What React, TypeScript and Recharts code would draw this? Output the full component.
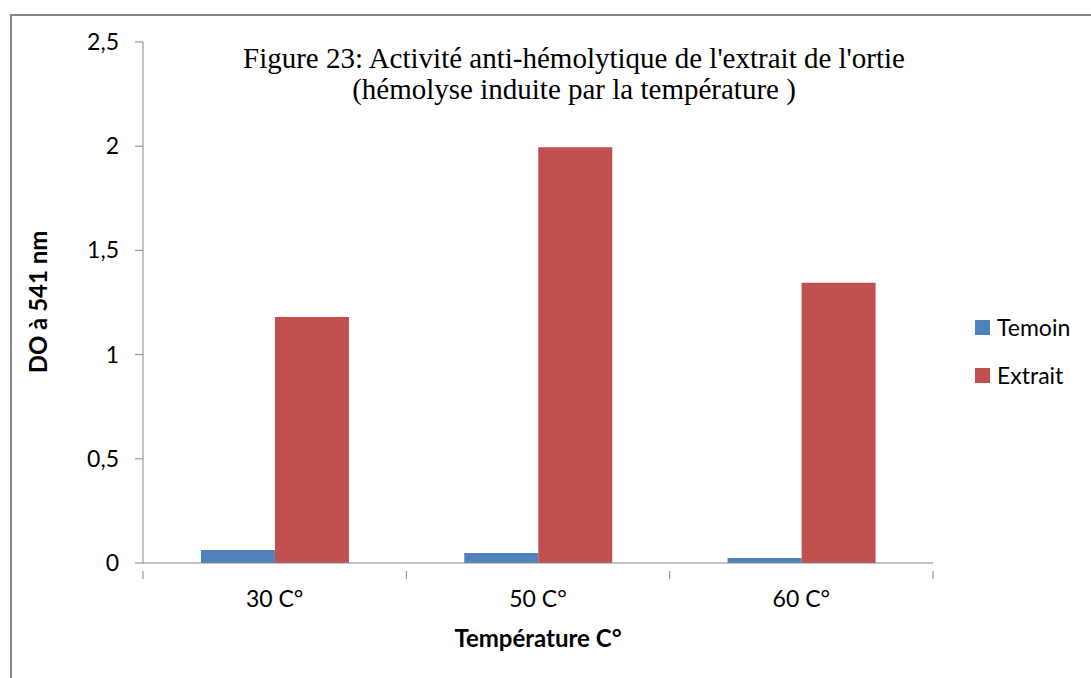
import { BarChart, Bar, XAxis, YAxis } from "recharts";

const categories = ["30 C°", "50 C°", "60 C°"];
const temoin = [0.062, 0.048, 0.024];
const extrait = [1.18, 1.995, 1.345];
const yTicks = [0, 0.5, 1, 1.5, 2, 2.5];

const data = categories.map((c, i) => ({
  name: c,
  Temoin: temoin[i],
  Extrait: extrait[i],
}));

const W = 1091;
const H = 678;
const plotLeft = 143;
const plotRight = 933;
const band = (plotRight - plotLeft) / categories.length;
const axisColor = "#868686";
const sans = "Lato, 'Open Sans', sans-serif";
const serif = "'Liberation Serif', 'Times New Roman', serif";

// x tick: label at the centre, tick mark at the category boundaries (Excel style)
function XTick(props: any) {
  const { x, y, payload, index } = props;
  const left = x - band / 2;
  return (
    <g>
      <line x1={left} x2={left} y1={y} y2={y + 8} stroke={axisColor} />
      {index === categories.length - 1 && (
        <line x1={x + band / 2} x2={x + band / 2} y1={y} y2={y + 8} stroke={axisColor} />
      )}
      <text x={x} y={y + 36} textAnchor="middle" fontSize={23} fontFamily={sans} fill="#000">
        {payload.value}
      </text>
    </g>
  );
}

function YTick(props: any) {
  const { x, y, payload } = props;
  return (
    <text x={x - 14} y={y + 8} textAnchor="end" fontSize={23} fontFamily={sans} fill="#000">
      {String(payload.value).replace(".", ",")}
    </text>
  );
}

const legendItems = [
  { name: "Temoin", color: "#4F81BD" },
  { name: "Extrait", color: "#C0504D" },
];

export default function App() {
  return (
    <div style={{ position: "absolute", left: 0, top: 0, width: W, height: H, background: "#fff" }}>
      <div
        style={{
          position: "absolute",
          left: 10,
          top: 14,
          width: W - 10,
          height: H - 14,
          borderLeft: `2px solid ${axisColor}`,
          borderTop: `2px solid ${axisColor}`,
          boxSizing: "border-box",
        }}
      />
      <BarChart
        width={W}
        height={H}
        data={data}
        margin={{ top: 42, right: W - plotRight, left: plotLeft - 60, bottom: 85 }}
        barCategoryGap="22%"
        barGap={0}
      >
        <XAxis
          dataKey="name"
          stroke={axisColor}
          tickLine={false}
          tick={<XTick />}
          height={30}
          interval={0}
        />
        <YAxis
          domain={[0, 2.5]}
          ticks={yTicks}
          width={60}
          stroke={axisColor}
          tickSize={8}
          tick={<YTick />}
        />
        <Bar dataKey="Temoin" fill="#4F81BD" isAnimationActive={false} />
        <Bar dataKey="Extrait" fill="#C0504D" isAnimationActive={false} />
      </BarChart>

      {/* legend */}
      <div style={{ position: "absolute", left: 975, top: 303 }}>
        {legendItems.map((it) => (
          <div key={it.name} style={{ display: "flex", alignItems: "center", height: 48 }}>
            <span style={{ width: 15, height: 15, background: it.color, marginRight: 7 }} />
            <span style={{ fontFamily: sans, fontSize: 23, color: "#000", lineHeight: "24px" }}>
              {it.name}
            </span>
          </div>
        ))}
      </div>

      {/* title */}
      {[
        ["Figure 23: Activité anti-hémolytique de l'extrait de l'ortie", 58],
        ["(hémolyse induite par la température )", 89],
      ].map(([t, cy]) => (
        <div
          key={t as string}
          style={{
            position: "absolute",
            left: 574,
            top: cy as number,
            transform: "translate(-50%, -50%)",
            fontFamily: serif,
            fontSize: 29,
            whiteSpace: "nowrap",
            color: "#000",
          }}
        >
          {t}
        </div>
      ))}

      <div
        style={{
          position: "absolute",
          left: 37,
          top: 302,
          transform: "translate(-50%, -50%) rotate(-90deg)",
          fontFamily: sans,
          fontWeight: "bold",
          fontSize: 24,
          whiteSpace: "nowrap",
        }}
      >
        DO à 541 nm
      </div>
      <div
        style={{
          position: "absolute",
          left: 538,
          top: 637,
          transform: "translate(-50%, -50%)",
          fontFamily: sans,
          fontWeight: "bold",
          fontSize: 24,
          whiteSpace: "nowrap",
        }}
      >
        Température C°
      </div>
    </div>
  );
}
